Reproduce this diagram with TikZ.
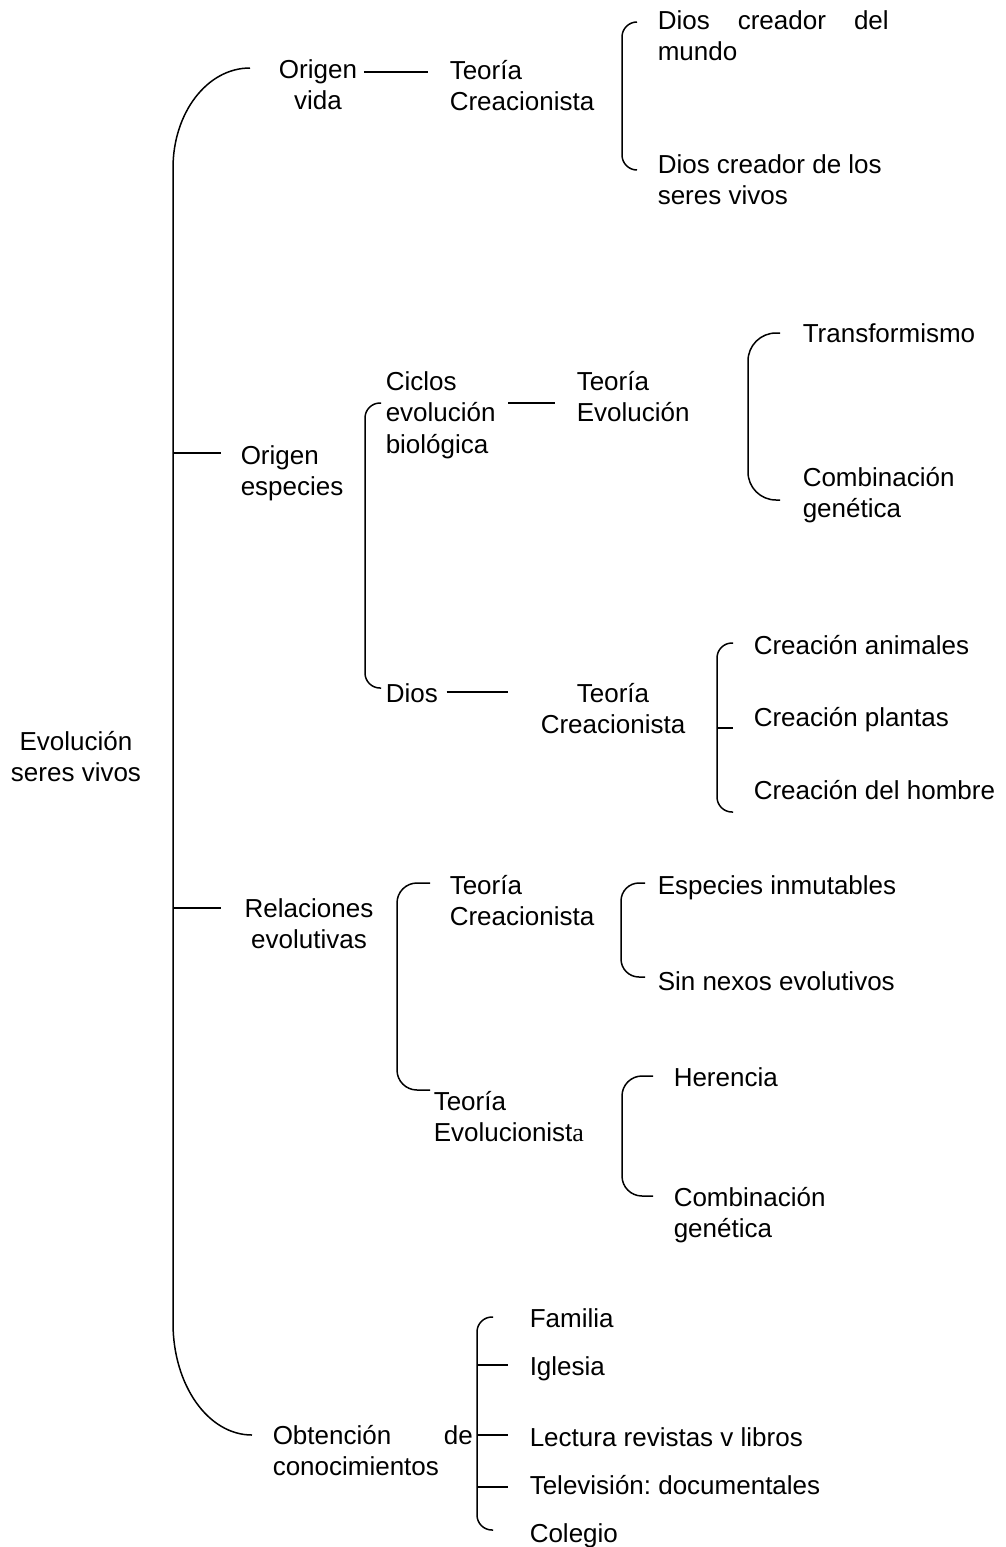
\documentclass[tikz,border=0pt]{standalone}
\usepackage{fontspec}
\setmainfont{Liberation Sans}
\newfontfamily\serifa{Liberation Serif}
\usetikzlibrary{positioning}
\frenchspacing

\begin{document}
\begin{tikzpicture}[x=1pt,y=-1pt,line width=1.5pt,
      txt/.style={inner sep=0pt,anchor=base west,align=left,
        font=\fontsize{26}{31.5}\selectfont},
      ctxt/.style={txt,anchor=base,align=center},
      llave/.style={rounded corners=#1},llave/.default=15pt]
  \useasboundingbox (0,0) rectangle (1005,1547);
  % raiz (base = ultima linea)
  \node[ctxt] (root) at (76,781.5) {Evolución\\seres vivos};
  % primer nivel
  \node[ctxt] (ov) at (318,109.5) {Origen\\vida};
  \node[txt] (oe) at (240,495.5) {Origen\\especies};
  \node[ctxt] (re) at (309,948.5) {Relaciones\\evolutivas};
  \node[txt] (oc) at (272,1475.5) {\makebox[200pt][s]{Obtención de}\\conocimientos};
  % origen vida
  \node[txt] (tc1) at (449,110.5) {Teoría\\Creacionista};
  \node[txt] (d1) at (657,60.5) {\makebox[231pt][s]{Dios creador del}\\mundo};
  \node[txt] (d2) at (657,204.5) {Dios creador de los\\seres vivos};
  % origen especies
  \node[txt] (ceb) at (385,453) {Ciclos\\evolución\\biológica};
  \node[txt] (te) at (576,421.5) {Teoría\\Evolución};
  \node[txt] (tr) at (802,342) {Transformismo};
  \node[txt] (cg1) at (802,517.5) {Combinación\\genética};
  \node[txt] (dios) at (385,702) {Dios};
  \node[ctxt] (tc2) at (613,733.5) {Teoría\\Creacionista};
  \node[txt] (ca) at (753,654) {Creación animales};
  \node[txt] (cp) at (753,726) {Creación plantas};
  \node[txt] (ch) at (753,799) {Creación del hombre};
  % relaciones evolutivas
  \node[txt] (tc3) at (449,925.5) {Teoría\\Creacionista};
  \node[txt] (ei) at (657,894) {Especies inmutables};
  \node[txt] (sn) at (657,990) {Sin nexos evolutivos};
  \node[txt] (tev) at (433,1141.5) {Teoría\\Evolucionist{\serifa a}};
  \node[txt] (he) at (673,1086) {Herencia};
  \node[txt] (cg2) at (673,1237.5) {Combinación\\genética};
  % obtencion de conocimientos
  \node[txt] (fa) at (529,1327) {Familia};
  \node[txt] (ig) at (529,1375) {Iglesia};
  \node[txt] (le) at (529,1446) {Lectura revistas v libros};
  \node[txt] (tv) at (529,1494) {Televisión: documentales};
  \node[txt] (co) at (529,1542) {Colegio};

  % llave grande
  \draw (250,68) .. controls (207,68) and (173,113) .. (173,168)
    -- (173,1323) .. controls (173,1385) and (208,1435) .. (252,1435);
  \draw (173,453) -- (221,453);
  \draw (173,908) -- (221,908);
  % llaves
  \draw[llave] (637,22) -- (622,22) -- (622,170) -- (637,170);
  \draw[llave] (381,403) -- (365,403) -- (365,688) -- (381,688);
  \draw[llave=28pt] (780,333) -- (748,333) -- (748,500) -- (780,500);
  \draw[llave] (733,643) -- (717,643) -- (717,812) -- (733,812);
  \draw (717,728) -- (733,728);
  \draw[llave=20pt] (430,883) -- (397,883) -- (397,1090) -- (430,1090);
  \draw[llave=18pt] (645,883) -- (621,883) -- (621,977) -- (645,977);
  \draw[llave=20pt] (653,1076) -- (622,1076) -- (622,1196) -- (653,1196);
  \draw[llave] (493,1317) -- (477,1317) -- (477,1530) -- (493,1530);
  \foreach \y in {1365,1435,1487}
    \draw (477,\y) -- (508,\y);
  % conectores
  \draw ([shift={(6,-37.5)}]ov.base east) -- ([shift={(-21,-38.5)}]tc1.base west);
  \draw ([shift={(12,-50)}]ceb.base east) -- ([shift={(-21,-18.5)}]te.base west);
  \draw ([shift={(8,-10)}]dios.base east) -- ([shift={(-32,-41.5)}]tc2.base west);
\end{tikzpicture}
\end{document}
